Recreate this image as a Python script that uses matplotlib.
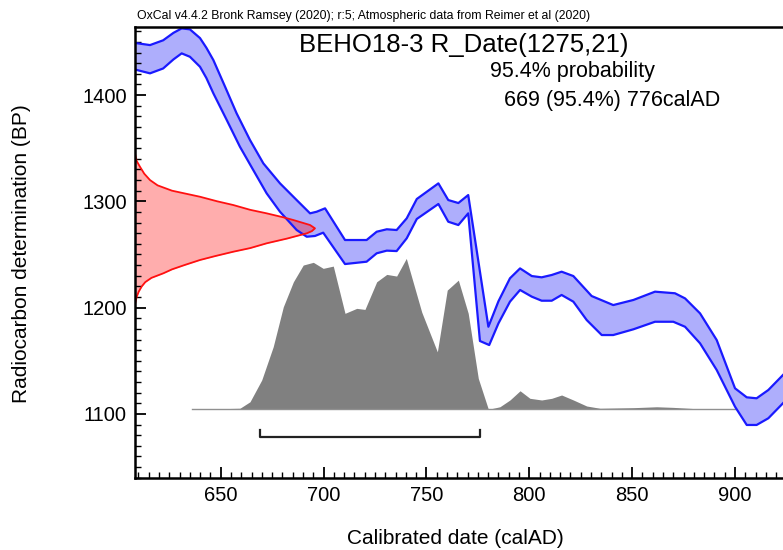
import numpy as np
import matplotlib
matplotlib.use("Agg")
import matplotlib.pyplot as plt
from matplotlib.ticker import MultipleLocator

plt.rcParams["font.family"] = ["Liberation Sans", "DejaVu Sans"]

# calibration curve, upper / lower edges of the band (calAD, BP)
upper_year = [608.3, 615.6, 622.0, 627.0, 631.0, 635.0, 639.9, 643.0, 646.4, 652.1,
              657.7, 664.2, 670.7, 678.8, 686.9, 693.4, 696.6, 700.7, 710.4, 720.9,
              725.8, 730.7, 735.5, 740.4, 745.3, 755.8, 760.6, 765.5, 770.3, 780.1,
              785.0, 790.6, 795.5, 801.2, 806.0, 810.9, 815.7, 821.4, 830.3, 840.8,
              850.6, 861.1, 870.8, 875.7, 883.0, 891.1, 900.0, 905.7, 910.5, 916.2,
              923.3, 930.0]
upper_bp = [1449, 1447.0, 1451.5, 1458.5, 1462.7, 1461.8, 1453.6, 1444.5, 1432.9, 1407.8,
            1382.8, 1357.7, 1335.7, 1316.9, 1301.2, 1288.7, 1290.2, 1293.4, 1263.6, 1263.6,
            1271.4, 1273.7, 1273.0, 1284.0, 1302.2, 1316.9, 1301.2, 1298.4, 1305.9, 1182.0,
            1206.0, 1227.6, 1236.9, 1229.7, 1228.5, 1230.7, 1233.8, 1229.7, 1210.9, 1202.4,
            1207.2, 1215.0, 1213.5, 1208.7, 1194.6, 1169.5, 1124.1, 1115.6, 1114.7, 1122.5,
            1136.6, 1150.0]
lower_year = [608.3, 615.6, 622.0, 627.0, 631.0, 635.0, 639.9, 643.0, 646.4, 652.9,
              659.3, 665.8, 672.3, 678.8, 686.9, 691.8, 695.8, 699.8, 710.4, 720.9,
              725.8, 730.7, 735.5, 740.4, 745.3, 755.8, 760.6, 765.5, 770.3, 776.0,
              780.5, 785.0, 790.6, 795.5, 801.2, 806.0, 810.9, 815.7, 821.4, 827.9,
              835.2, 840.8, 850.6, 861.1, 870.0, 875.7, 883.0, 891.1, 900.0, 905.7,
              910.5, 916.2, 923.3, 930.0]
lower_bp = [1424, 1420.4, 1425.0, 1433.5, 1439.2, 1436.0, 1426.6, 1416.0, 1401.6, 1376.5,
            1351.4, 1329.4, 1307.5, 1290.2, 1273.0, 1266.7, 1267.4, 1270.5, 1241.0, 1243.2,
            1251.1, 1253.6, 1253.2, 1265.2, 1283.4, 1297.5, 1280.8, 1277.7, 1288.7, 1168.6,
            1164.8, 1185.2, 1205.6, 1216.6, 1210.3, 1206.5, 1206.5, 1211.9, 1205.6, 1188.3,
            1174.2, 1174.2, 1179.6, 1186.7, 1186.7, 1182.0, 1166.4, 1141.3, 1106.8, 1089.6,
            1089.6, 1095.9, 1110.0, 1124.0]

# R_Date(1275,21) drawn sideways off the y axis (width in years)
red_bp = [1345, 1338, 1332.6, 1326, 1320.0, 1315, 1310, 1304.3, 1300, 1296.5,
          1292, 1288.7, 1285, 1282.4, 1279.5, 1277.7, 1274.6, 1272, 1269.9, 1265,
          1260.5, 1256, 1252.6, 1248.5, 1244.8, 1240, 1236, 1232.3, 1228, 1224,
          1220, 1215, 1210, 1203]
red_width = [0, 0.8, 2.4, 4.5, 7.3, 11, 18, 31.6, 40, 47.8,
             56, 64.0, 72, 77.0, 82, 85.1, 87.5, 86, 83.5, 74,
             64.0, 56, 47.8, 39, 31.6, 24, 18, 13.8, 8, 5,
             3.3, 1.8, 0.8, 0]

# calibrated probability (relative)
post_year = [635.9, 659.3, 664.2, 669.9, 675.5, 680.4, 685.3, 690.1, 695.0, 699.8,
             704.7, 710.4, 716.1, 720.1, 725.8, 730.7, 735.5, 740.2, 747.7, 755.3,
             760.1, 765.5, 770.3, 775.2, 780.1, 785.7, 790.6, 795.5, 800.3, 806.0,
             810.9, 815.7, 821.4, 827.9, 834.4, 850.6, 861.9, 870.0, 881.4, 900.0]
post_prob = [0, 0.007, 0.05, 0.194, 0.415, 0.679, 0.845, 0.956, 0.974, 0.934,
             0.949, 0.636, 0.669, 0.662, 0.845, 0.894, 0.883, 1.0, 0.644, 0.381,
             0.79, 0.856, 0.636, 0.205, 0, 0.017, 0.062, 0.123, 0.073, 0.062,
             0.073, 0.095, 0.062, 0.022, 0.007, 0.011, 0.017, 0.013, 0.004, 0]

range_start, range_end = 669, 776

XMIN, XMAX = 608.3, 940
YMIN, YMAX = 1039.7, 1464.0
base_bp = 1104.3
prob_scale = 142
bar_bp = 1078.5

fig = plt.figure(figsize=(7.83, 5.5), dpi=100)
ax = fig.add_axes([0.1724, 0.1309, 0.8714, 0.82])

# calibrated distribution
ax.fill_between(post_year, base_bp, base_bp + np.array(post_prob) * prob_scale,
                color="#808080", lw=0)
ax.plot([post_year[0], post_year[-1]], [base_bp, base_bp], color="#909090", lw=1)

# calibration curve
ax.fill(np.r_[upper_year, lower_year[::-1]], np.r_[upper_bp, lower_bp[::-1]],
        facecolor="#aeaefc", edgecolor="none")
ax.plot(upper_year, upper_bp, color="#1a1aff", lw=1.6)
ax.plot(lower_year, lower_bp, color="#1a1aff", lw=1.6)

# radiocarbon date
red_x = XMIN + np.array(red_width)
ax.fill_betweenx(red_bp, XMIN, red_x, color=(1, 0, 0, 0.32), lw=0)
ax.plot(red_x, red_bp, color="#ff1010", lw=1.3)

# 95.4% range bracket
ax.plot([range_start, range_start, range_end, range_end],
        [bar_bp + 6.5, bar_bp, bar_bp, bar_bp + 6.5], color="#222222", lw=1.6)

ax.set_xlim(XMIN, XMAX)
ax.set_ylim(YMIN, YMAX)
ax.xaxis.set_major_locator(MultipleLocator(50))
ax.xaxis.set_minor_locator(MultipleLocator(5))
ax.yaxis.set_major_locator(MultipleLocator(100))
ax.yaxis.set_minor_locator(MultipleLocator(10))
ax.tick_params(which="major", direction="in", length=8, width=1.3,
               labelsize=14.5, pad=6)
ax.tick_params(which="minor", direction="in", length=4, width=1)
ax.tick_params(axis="x", which="both", top=False)
ax.tick_params(axis="y", which="both", right=False)
for s in ax.spines.values():
    s.set_linewidth(1.8)

fig.text(22 / 783, 1 - 254 / 550, "Radiocarbon determination (BP)", rotation=90,
         ha="center", va="center", fontsize=15)
fig.text(455 / 783, 1 - 538 / 550, "Calibrated date (calAD)",
         ha="center", va="center", fontsize=15)
fig.text(137 / 783, 1 - 16 / 550,
         "OxCal v4.4.2 Bronk Ramsey (2020); r:5; Atmospheric data from Reimer et al (2020)",
         ha="left", va="center", fontsize=8.8)
fig.text(464 / 783, 1 - 45 / 550, "BEHO18-3 R_Date(1275,21)",
         ha="center", va="center", fontsize=18.5)
fig.text(572 / 783, 1 - 72 / 550, "95.4% probability",
         ha="center", va="center", fontsize=15.5)
fig.text(612 / 783, 1 - 100 / 550, "669 (95.4%) 776calAD",
         ha="center", va="center", fontsize=15.5)

fig.savefig("out.png", dpi=100)
